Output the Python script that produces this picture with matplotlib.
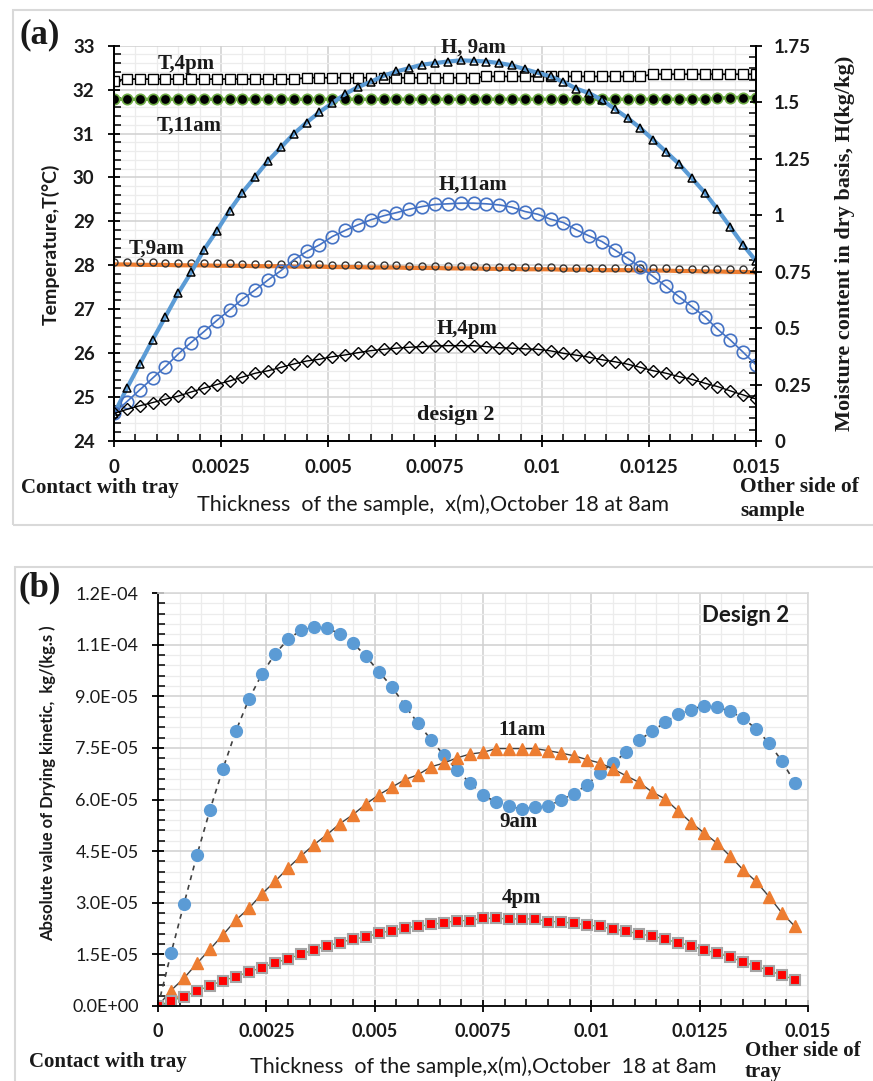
import matplotlib.pyplot as plt
import numpy as np
from matplotlib.ticker import MultipleLocator
from matplotlib.patches import Rectangle

SANS = ['Lato', 'DejaVu Sans']
SERIF = ['Liberation Serif', 'DejaVu Serif']
INK = '#1a1a1a'

# ---------------- data, panel (a) ----------------
thickness_a = [0.0, 0.0003, 0.0006, 0.0009, 0.0012, 0.0015, 0.0018, 0.0021, 0.0024, 0.0027,
               0.003, 0.0033, 0.0036, 0.0039, 0.0042, 0.0045, 0.0048, 0.0051, 0.0054, 0.0057,
               0.006, 0.0063, 0.0066, 0.0069, 0.0072, 0.0075, 0.0078, 0.0081, 0.0084, 0.0087,
               0.009, 0.0093, 0.0096, 0.0099, 0.0102, 0.0105, 0.0108, 0.0111, 0.0114, 0.0117,
               0.012, 0.0123, 0.0126, 0.0129, 0.0132, 0.0135, 0.0138, 0.0141, 0.0144, 0.0147,
               0.015]

T_4pm = [32.20, 32.24, 32.24, 32.24, 32.24, 32.24, 32.24, 32.24, 32.24, 32.24,
         32.24, 32.24, 32.24, 32.24, 32.24, 32.27, 32.27, 32.27, 32.27, 32.27,
         32.27, 32.27, 32.27, 32.27, 32.27, 32.27, 32.27, 32.27, 32.27, 32.30,
         32.30, 32.30, 32.30, 32.30, 32.30, 32.30, 32.30, 32.30, 32.30, 32.30,
         32.30, 32.30, 32.35, 32.35, 32.35, 32.35, 32.35, 32.35, 32.35, 32.35,
         32.35]

T_11am = [31.78, 31.78, 31.78, 31.78, 31.78, 31.78, 31.78, 31.78, 31.78, 31.78,
          31.78, 31.78, 31.78, 31.78, 31.78, 31.78, 31.78, 31.78, 31.78, 31.78,
          31.78, 31.78, 31.78, 31.78, 31.78, 31.78, 31.78, 31.78, 31.78, 31.78,
          31.78, 31.78, 31.78, 31.78, 31.78, 31.78, 31.78, 31.78, 31.78, 31.78,
          31.78, 31.78, 31.78, 31.78, 31.78, 31.78, 31.78, 31.80, 31.82, 31.82,
          31.82]

T_9am = [28.08, 28.08, 28.07, 28.07, 28.06, 28.06, 28.06, 28.05, 28.05, 28.05,
         28.04, 28.04, 28.04, 28.03, 28.03, 28.02, 28.02, 28.01, 28.01, 28.01,
         28.00, 28.00, 28.00, 27.99, 27.99, 27.99, 27.98, 27.98, 27.98, 27.97,
         27.97, 27.97, 27.96, 27.96, 27.96, 27.95, 27.95, 27.95, 27.94, 27.94,
         27.94, 27.93, 27.93, 27.93, 27.92, 27.92, 27.92, 27.91, 27.91, 27.91,
         27.90]

T_9am_fit = [28.02, 28.02, 28.01, 28.01, 28.01, 28.00, 28.00, 28.00, 27.99, 27.99,
             27.99, 27.98, 27.98, 27.98, 27.97, 27.97, 27.97, 27.96, 27.96, 27.96,
             27.95, 27.95, 27.95, 27.94, 27.94, 27.94, 27.93, 27.93, 27.93, 27.92,
             27.92, 27.92, 27.91, 27.91, 27.91, 27.90, 27.90, 27.90, 27.89, 27.89,
             27.89, 27.88, 27.88, 27.88, 27.87, 27.87, 27.86, 27.86, 27.85, 27.85,
             27.84]

H_9am = [0.12, 0.233, 0.34, 0.447, 0.55, 0.654, 0.746, 0.846, 0.93, 1.02,
         1.10, 1.17, 1.24, 1.30, 1.36, 1.41, 1.456, 1.496, 1.536, 1.567,
         1.59, 1.617, 1.636, 1.651, 1.666, 1.673, 1.68, 1.685, 1.683, 1.68,
         1.673, 1.663, 1.646, 1.63, 1.614, 1.59, 1.56, 1.54, 1.51, 1.47,
         1.43, 1.385, 1.333, 1.28, 1.227, 1.164, 1.10, 1.026, 0.947, 0.868,
         0.797]

H_11am = [0.122, 0.174, 0.226, 0.278, 0.329, 0.385, 0.436, 0.484, 0.533, 0.580,
          0.628, 0.669, 0.713, 0.754, 0.802, 0.839, 0.868, 0.905, 0.932, 0.957,
          0.979, 0.997, 1.011, 1.026, 1.038, 1.047, 1.050, 1.053, 1.053, 1.050,
          1.045, 1.035, 1.016, 1.004, 0.982, 0.967, 0.935, 0.908, 0.883, 0.846,
          0.809, 0.769, 0.728, 0.684, 0.639, 0.595, 0.551, 0.495, 0.447, 0.393,
          0.337]

H_4pm = [0.122, 0.140, 0.156, 0.170, 0.185, 0.199, 0.217, 0.234, 0.250, 0.266,
         0.283, 0.300, 0.311, 0.326, 0.341, 0.354, 0.362, 0.373, 0.381, 0.391,
         0.400, 0.406, 0.411, 0.415, 0.418, 0.421, 0.422, 0.422, 0.422, 0.418,
         0.413, 0.411, 0.408, 0.406, 0.399, 0.388, 0.380, 0.371, 0.360, 0.351,
         0.340, 0.326, 0.311, 0.300, 0.285, 0.273, 0.256, 0.241, 0.222, 0.204,
         0.186]

x_ticks = [0, 0.0025, 0.005, 0.0075, 0.01, 0.0125, 0.015]
x_tick_labels = ['0', '0.0025', '0.005', '0.0075', '0.01', '0.0125', '0.015']
T_ticks = [24, 25, 26, 27, 28, 29, 30, 31, 32, 33]
T_tick_labels = ['24', '25', '26', '27', '28', '29', '30', '31', '32', '33']
H_ticks = [0, 0.25, 0.5, 0.75, 1, 1.25, 1.5, 1.75]
H_tick_labels = ['0', '0.25', '0.5', '0.75', '1', '1.25', '1.5', '1.75']

# ---------------- data, panel (b) (values in 1e-6 kg/(kg.s)) ----------------
thickness_b = thickness_a[:50]

rate_9am = [0, 15.3, 29.7, 43.9, 57.0, 69.0, 80.0, 89.2, 96.5, 102.3,
            106.5, 109.2, 110.1, 109.7, 108.2, 105.5, 101.6, 97.1, 92.7, 87.3,
            82.1, 77.4, 72.8, 68.5, 64.8, 61.4, 59.2, 58.0, 57.2, 57.7,
            58.0, 59.9, 61.7, 64.3, 67.7, 70.6, 73.7, 77.2, 79.8, 82.4,
            84.7, 86.1, 87.3, 86.9, 85.6, 83.7, 80.5, 76.4, 71.1, 64.8]

rate_11am = [0, 4.5, 8.1, 12.4, 16.5, 20.7, 25.0, 28.4, 32.6, 36.2,
             40.1, 43.6, 46.9, 49.8, 53.0, 55.6, 58.7, 61.4, 63.6, 65.8,
             67.2, 69.5, 70.6, 72.1, 73.2, 73.7, 74.8, 74.8, 74.8, 74.8,
             74.2, 73.5, 72.7, 71.6, 70.6, 68.9, 66.9, 65.0, 62.2, 60.2,
             56.7, 53.3, 50.3, 47.3, 43.6, 39.6, 36.2, 31.8, 27.0, 23.1]

rate_4pm = [0, 1.5, 2.7, 4.4, 5.9, 7.4, 8.5, 10.0, 11.1, 12.6,
            13.7, 15.1, 16.3, 17.5, 18.4, 19.5, 20.0, 21.2, 21.9, 22.8,
            23.1, 23.7, 24.2, 24.8, 24.8, 25.5, 25.5, 25.3, 25.3, 25.3,
            24.5, 24.5, 24.0, 23.6, 23.1, 22.4, 21.8, 20.9, 20.4, 19.4,
            18.4, 17.5, 16.3, 15.3, 14.3, 12.7, 11.7, 10.2, 9.0, 7.6]

rate_ticks = [0, 1.5e-5, 3.0e-5, 4.5e-5, 6.0e-5, 7.5e-5, 9.0e-5, 1.05e-4, 1.2e-4]
rate_tick_labels = ['0.0E+00', '1.5E-05', '3.0E-05', '4.5E-05', '6.0E-05',
                    '7.5E-05', '9.0E-05', '1.1E-04', '1.2E-04']

W, H = 873, 1081


def fx(px):
    return px / W


def fy(py):
    return 1 - py / H


def style_axis(ax):
    ax.grid(which='major', color='#D0D0D0', lw=1.1)
    ax.grid(which='minor', color='#ECECEC', lw=0.9)
    ax.set_axisbelow(True)
    ax.tick_params(which='major', direction='inout', length=8, width=1.3, colors='black')
    ax.tick_params(which='minor', direction='in', length=5, width=1.1, colors='black')


fig = plt.figure(figsize=(W / 100, H / 100), dpi=100)

# panel frames
fig.add_artist(Rectangle((fx(13), fy(525)), 2, fy(10) - fy(525), transform=fig.transFigure,
                         fill=False, ec='#D9D9D9', lw=1.5))
fig.add_artist(Rectangle((fx(15), -1), 2, fy(567) + 1, transform=fig.transFigure,
                         fill=False, ec='#D9D9D9', lw=1.5))

# ---------------- panel (a) ----------------
ax1 = fig.add_axes([fx(114), fy(441), fx(756) - fx(114), fy(45.7) - fy(441)])
ax2 = ax1.twinx()

ax1.plot(thickness_a, T_4pm, color='black', lw=1.3, marker='s', ms=6.5,
         mfc='white', mec='black', mew=1)
ax1.plot(thickness_a, T_11am, color='#70AD47', lw=2.5, marker='o', ms=7.5,
         mfc='black', mec='#70AD47', mew=1.2)
ax1.plot(thickness_a, T_9am_fit, color='#ED7D31', lw=3)
ax1.plot(thickness_a, T_9am, ls='none', marker='o', ms=5, mfc='none', mec='#333333', mew=1)

ax2.plot(thickness_a, H_9am, color='#5B9BD5', lw=3, marker='^', ms=5.5,
         mfc='none', mec='black', mew=1.1)
ax2.plot(thickness_a, H_11am, color='#4472C4', lw=1.2, marker='o', ms=9,
         mfc='none', mec='#4472C4', mew=1.2)
ax2.plot(thickness_a, H_4pm, color='black', lw=1, marker='D', ms=6.5,
         mfc='none', mec='black', mew=1)

ax1.set_xlim(0, 0.015)
ax1.set_ylim(24, 33)
ax2.set_ylim(0, 1.75)
style_axis(ax1)
ax2.tick_params(which='major', direction='inout', length=8, width=1.3)
ax2.tick_params(which='minor', direction='in', length=5, width=1.1)

ax1.set_xticks(x_ticks)
ax1.set_xticklabels(x_tick_labels, family=SANS, fontweight='bold', fontsize=13.5, color=INK)
ax1.xaxis.set_minor_locator(MultipleLocator(0.0005))
ax1.set_yticks(T_ticks)
ax1.set_yticklabels(T_tick_labels, family=SANS, fontweight='bold', fontsize=13.5, color=INK)
ax1.yaxis.set_minor_locator(MultipleLocator(0.2))
ax2.set_yticks(H_ticks)
ax2.set_yticklabels(H_tick_labels, family=SANS, fontweight='bold', fontsize=13.5, color=INK)
ax2.yaxis.set_minor_locator(MultipleLocator(0.05))
ax1.tick_params(axis='x', pad=9)
ax1.tick_params(axis='y', pad=10)
ax2.tick_params(axis='y', pad=9)

for ax in (ax1, ax2):
    ax.spines['top'].set_visible(False)
    for s in ('left', 'bottom', 'right'):
        ax.spines[s].set_color('black')
        ax.spines[s].set_linewidth(1.3)

serif_kw = dict(family=SERIF, fontweight='bold', color=INK, ha='center', va='center')
fig.text(fx(40), fy(35), '(a)', fontsize=25, **serif_kw)
fig.text(fx(186), fy(64), 'T,4pm', fontsize=15, **serif_kw)
fig.text(fx(189), fy(126), 'T,11am', fontsize=15, **serif_kw)
fig.text(fx(157), fy(249), 'T,9am', fontsize=15, **serif_kw)
fig.text(fx(473), fy(48), 'H, 9am', fontsize=15, **serif_kw)
fig.text(fx(473), fy(185), 'H,11am', fontsize=15, **serif_kw)
fig.text(fx(467), fy(329), 'H,4pm', fontsize=15, **serif_kw)
fig.text(fx(456), fy(415), 'design 2', fontsize=16, **serif_kw)
fig.text(fx(100), fy(488), 'Contact with tray', fontsize=15, **serif_kw)
fig.text(fx(740), fy(477), 'Other side of\nsample', fontsize=15.5, family=SERIF,
         fontweight='bold', color=INK, ha='left', va='top', linespacing=1.25)
fig.text(fx(433), fy(505), 'Thickness  of the sample,  x(m),October 18 at 8am',
         fontsize=15.5, family=SANS, color=INK, ha='center', va='center')
fig.text(fx(51), fy(244), 'Temperature,T(°C)', rotation=90, fontsize=14, family=SANS,
         fontweight='bold', color=INK, ha='center', va='center')
fig.text(fx(845), fy(243), 'Moisture content in dry basis, H(kg/kg)', rotation=90,
         fontsize=16, **serif_kw)

# ---------------- panel (b) ----------------
ax3 = fig.add_axes([fx(158), fy(1006), fx(808) - fx(158), fy(593) - fy(1006)])

ax3.plot(thickness_b, np.array(rate_9am) * 1e-6, color='#404040', ls=(0, (3, 3)), lw=1.2,
         marker='o', ms=8.5, mfc='#5B9BD5', mec='#5B9BD5')
ax3.plot(thickness_b, np.array(rate_11am) * 1e-6, color='#404040', lw=1,
         marker='^', ms=9, mfc='#ED7D31', mec='#ED7D31')
ax3.plot(thickness_b, np.array(rate_4pm) * 1e-6, color='#70AD47', lw=1,
         marker='s', ms=7, mfc='#FF0000', mec='#A5A5A5', mew=1.5)

ax3.set_xlim(0, 0.015)
ax3.set_ylim(0, 1.2e-4)
style_axis(ax3)
ax3.set_xticks(x_ticks)
ax3.set_xticklabels(x_tick_labels, family=SANS, fontweight='bold', fontsize=13, color=INK)
ax3.xaxis.set_minor_locator(MultipleLocator(0.0005))
ax3.set_yticks(rate_ticks)
ax3.set_yticklabels(rate_tick_labels, family=SANS, fontsize=13, color=INK)
ax3.yaxis.set_minor_locator(MultipleLocator(3e-6))
ax3.tick_params(axis='x', pad=8)
ax3.tick_params(axis='y', pad=10)
for s in ('left', 'bottom'):
    ax3.spines[s].set_color('black')
    ax3.spines[s].set_linewidth(1.3)
for s in ('top', 'right'):
    ax3.spines[s].set_color('#D9D9D9')
    ax3.spines[s].set_linewidth(1.2)

fig.text(fx(40), fy(588), '(b)', fontsize=25, **serif_kw)
fig.text(fx(746), fy(616), 'Design 2', fontsize=16, family=SANS, fontweight='bold',
         color=INK, ha='center', va='center')
fig.text(fx(522), fy(730), '11am', fontsize=15, **serif_kw)
fig.text(fx(518), fy(822), '9am', fontsize=15, **serif_kw)
fig.text(fx(522), fy(898), '4pm', fontsize=15, **serif_kw)
fig.text(fx(108), fy(1062), 'Contact with tray', fontsize=15, **serif_kw)
fig.text(fx(745), fy(1041), 'Other side of\ntray', fontsize=15, family=SERIF,
         fontweight='bold', color=INK, ha='left', va='top', linespacing=1.1)
fig.text(fx(483), fy(1067), 'Thickness  of the sample,x(m),October  18 at 8am',
         fontsize=15.5, family=SANS, color=INK, ha='center', va='center')
fig.text(fx(48), fy(783), 'Absolute value of Drying kinetic,  kg/(kg.s )', rotation=90,
         fontsize=12, family=SANS, fontweight='bold', color=INK, ha='center', va='center')

fig.savefig('out.png', dpi=100)
